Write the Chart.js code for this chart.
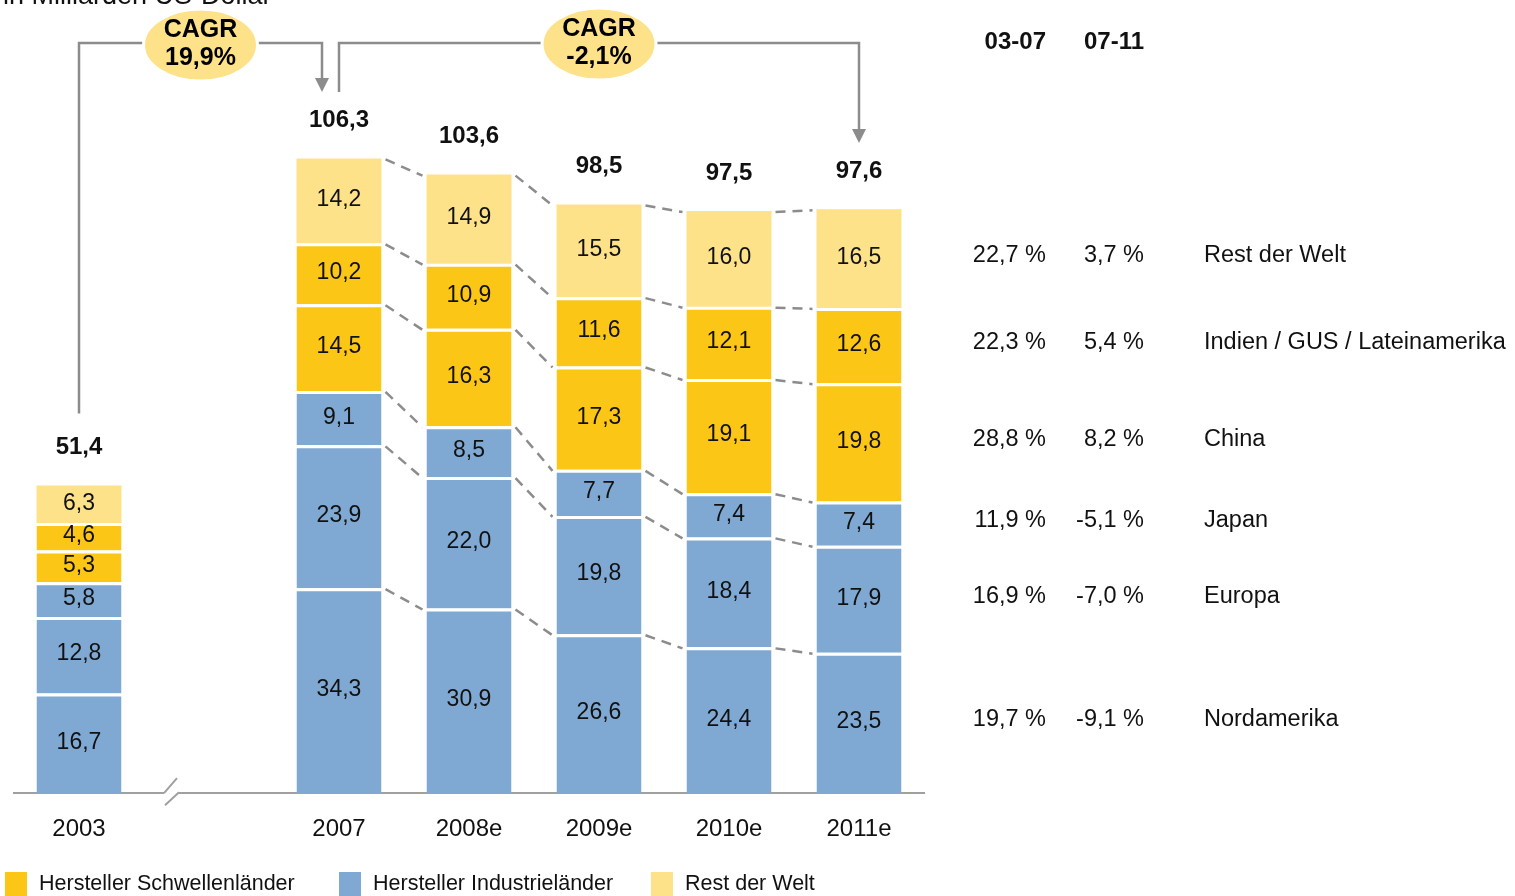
<!DOCTYPE html>
<html>
<head>
<meta charset="utf-8">
<script src="https://cdn.jsdelivr.net/npm/chart.js@4"></script>
<style>
  body { margin: 0; background: #fff; }
  #wrap { width: 1515px; height: 896px; position: relative; }
</style>
</head>
<body>
<div id="wrap"><canvas id="chart"></canvas></div>
<script>
// data, in Milliarden US-Dollar
const years = ['2003', '', '2007', '2008e', '2009e', '2010e', '2011e'];
const nordamerika = [16.7, null, 34.3, 30.9, 26.6, 24.4, 23.5];
const europa = [12.8, null, 23.9, 22.0, 19.8, 18.4, 17.9];
const japan = [5.8, null, 9.1, 8.5, 7.7, 7.4, 7.4];
const china = [5.3, null, 14.5, 16.3, 17.3, 19.1, 19.8];
const indien = [4.6, null, 10.2, 10.9, 11.6, 12.1, 12.6];
const restWelt = [6.3, null, 14.2, 14.9, 15.5, 16.0, 16.5];
const totals = [51.4, null, 106.3, 103.6, 98.5, 97.5, 97.6];

const regions = ['Nordamerika', 'Europa', 'Japan', 'China', 'Indien / GUS / Lateinamerika', 'Rest der Welt'];
const cagr0307 = ['19,7 %', '16,9 %', '11,9 %', '28,8 %', '22,3 %', '22,7 %'];
const cagr0711 = ['-9,1 %', '-7,0 %', '-5,1 %', '8,2 %', '5,4 %', '3,7 %'];
const cagrTotal = ['19,9%', '-2,1%'];
const legendLabels = ['Hersteller Schwellenländer', 'Hersteller Industrieländer', 'Rest der Welt'];

const BLUE = '#7FA9D2';
const YELLOW = '#FCC616';
const LIGHT = '#FDE28A';
const GREY = '#8C8C8C';
const FONT = '"Liberation Sans", Arial, sans-serif';

const fmt = v => v.toFixed(1).replace('.', ',');

function seg(label, data, color, top) {
  return {
    label: label,
    data: data,
    backgroundColor: color,
    borderColor: '#fff',
    borderWidth: { top: top, left: 0, right: 0, bottom: 0 },
    borderSkipped: false,
    barPercentage: 0.654,
    categoryPercentage: 1
  };
}

function arrowDown(ctx, x, y) {
  ctx.beginPath();
  ctx.moveTo(x - 7, y - 14);
  ctx.lineTo(x + 7, y - 14);
  ctx.lineTo(x, y);
  ctx.closePath();
  ctx.fill();
}

function bubble(ctx, cx, cy, text) {
  ctx.save();
  ctx.beginPath();
  ctx.ellipse(cx, cy + 2, 57, 36, 0, 0, Math.PI * 2);
  ctx.fillStyle = LIGHT;
  ctx.fill();
  ctx.lineWidth = 3;
  ctx.strokeStyle = '#fff';
  ctx.stroke();
  ctx.fillStyle = '#000';
  ctx.font = 'bold 25px ' + FONT;
  ctx.textAlign = 'center';
  ctx.textBaseline = 'middle';
  ctx.fillText('CAGR', cx, cy - 13);
  ctx.fillText(text, cx, cy + 15);
  ctx.restore();
}

const extras = {
  id: 'extras',
  afterDatasetsDraw(chart) {
    const ctx = chart.ctx;
    const x = chart.scales.x;
    const metas = chart.data.datasets.map((d, i) => chart.getDatasetMeta(i));

    // dashed connectors between bars
    ctx.save();
    ctx.strokeStyle = GREY;
    ctx.lineWidth = 2.5;
    ctx.setLineDash([10, 7]);
    metas.forEach(m => {
      for (let i = 2; i < years.length - 1; i++) {
        const a = m.data[i], b = m.data[i + 1];
        ctx.beginPath();
        ctx.moveTo(a.x + a.width / 2 + 4, a.y + 1);
        ctx.lineTo(b.x - b.width / 2 - 4, b.y + 1);
        ctx.stroke();
      }
    });
    ctx.restore();

    // segment values
    ctx.save();
    ctx.fillStyle = '#111';
    ctx.font = '23px ' + FONT;
    ctx.textAlign = 'center';
    ctx.textBaseline = 'middle';
    metas.forEach((m, di) => {
      chart.data.datasets[di].data.forEach((v, i) => {
        if (v == null) return;
        const el = m.data[i];
        ctx.fillText(fmt(v), el.x, (el.y + el.base) / 2 - 1);
      });
    });

    // totals
    ctx.font = 'bold 24px ' + FONT;
    const topMeta = metas[metas.length - 1];
    totals.forEach((t, i) => {
      if (t == null) return;
      const el = topMeta.data[i];
      ctx.fillText(fmt(t), el.x, el.y - 38);
    });
    ctx.restore();

    // axis break
    const ay = chart.chartArea.bottom;
    const bx = x.getPixelForValue(1) - 45;
    ctx.save();
    ctx.fillStyle = '#fff';
    ctx.fillRect(bx, ay - 3, 15, 6);
    ctx.strokeStyle = '#A0A0A0';
    ctx.lineWidth = 2;
    ctx.beginPath();
    ctx.moveTo(bx, ay);
    ctx.lineTo(bx + 13, ay - 15);
    ctx.moveTo(bx + 1, ay + 12);
    ctx.lineTo(bx + 15, ay - 1);
    ctx.stroke();
    ctx.restore();

    // CAGR brackets
    const x03 = x.getPixelForValue(0);
    const x07 = x.getPixelForValue(2);
    const x11 = x.getPixelForValue(6);
    const yLine = 43;
    ctx.save();
    ctx.strokeStyle = GREY;
    ctx.fillStyle = GREY;
    ctx.lineWidth = 2.5;
    ctx.beginPath();
    ctx.moveTo(x03, topMeta.data[0].y - 72);
    ctx.lineTo(x03, yLine);
    ctx.lineTo(x07 - 17, yLine);
    ctx.lineTo(x07 - 17, 78);
    ctx.stroke();
    arrowDown(ctx, x07 - 17, 92);
    ctx.beginPath();
    ctx.moveTo(x07, 92);
    ctx.lineTo(x07, yLine);
    ctx.lineTo(x11, yLine);
    ctx.lineTo(x11, 129);
    ctx.stroke();
    arrowDown(ctx, x11, 143);
    ctx.restore();
    bubble(ctx, (x03 + x07 - 17) / 2, 43, cagrTotal[0]);
    bubble(ctx, (x07 + x11) / 2, 42, cagrTotal[1]);

    // title (cut at the top edge)
    ctx.save();
    ctx.fillStyle = '#111';
    ctx.font = '27px ' + FONT;
    ctx.textBaseline = 'alphabetic';
    ctx.fillText('in Milliarden US-Dollar', 3, 4);

    // growth table, aligned to the 2011e segments
    ctx.textBaseline = 'middle';
    ctx.font = 'bold 24px ' + FONT;
    ctx.textAlign = 'right';
    ctx.fillText('03-07', 1046, 42);
    ctx.fillText('07-11', 1144, 42);
    ctx.font = '23.5px ' + FONT;
    metas.forEach((m, di) => {
      const el = m.data[6];
      const yy = (el.y + el.base) / 2 - 3;
      ctx.textAlign = 'right';
      ctx.fillText(cagr0307[di], 1046, yy);
      ctx.fillText(cagr0711[di], 1144, yy);
      ctx.textAlign = 'left';
      ctx.fillText(regions[di], 1204, yy);
    });

    // legend
    const legendColors = [YELLOW, BLUE, LIGHT];
    const legendX = [5, 339, 651];
    ctx.font = '21.5px ' + FONT;
    legendLabels.forEach((l, i) => {
      ctx.fillStyle = legendColors[i];
      ctx.fillRect(legendX[i], 872, 22, 26);
      ctx.fillStyle = '#111';
      ctx.fillText(l, legendX[i] + 34, 884);
    });
    ctx.restore();
  }
};

new Chart(document.getElementById('chart'), {
  type: 'bar',
  data: {
    labels: years,
    datasets: [
      seg('Nordamerika', nordamerika, BLUE, 3),
      seg('Europa', europa, BLUE, 3),
      seg('Japan', japan, BLUE, 3),
      seg('China', china, YELLOW, 3),
      seg('Indien / GUS / Lateinamerika', indien, YELLOW, 3),
      seg('Rest der Welt', restWelt, LIGHT, 0)
    ]
  },
  options: {
    responsive: true,
    maintainAspectRatio: false,
    animation: false,
    layout: { padding: { left: 14, right: 591, top: 76, bottom: 30 } },
    plugins: {
      legend: { display: false },
      tooltip: { enabled: false }
    },
    scales: {
      x: {
        stacked: true,
        grid: { display: false, drawTicks: false },
        border: { display: true, color: '#A0A0A0', width: 2 },
        ticks: { color: '#111', font: { size: 24, family: FONT }, padding: 22, maxRotation: 0 }
      },
      y: {
        stacked: true,
        display: false,
        min: 0,
        max: 120
      }
    }
  },
  plugins: [extras]
});
</script>
</body>
</html>
